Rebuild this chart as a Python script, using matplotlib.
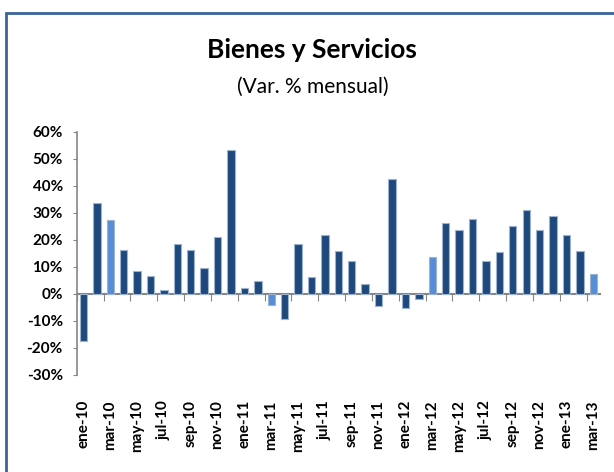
import matplotlib
matplotlib.use("Agg")
import matplotlib.pyplot as plt
from matplotlib.patches import Rectangle
import numpy as np

months = ["ene", "feb", "mar", "abr", "may", "jun", "jul", "ago", "sep", "oct", "nov", "dic"]
categories = [f"{m}-{y}" for y in ["10", "11", "12"] for m in months] + ["ene-13", "feb-13", "mar-13"]
values = [-17.4, 33.8, 27.3, 16.4, 8.6, 6.8, 1.6, 18.3, 16.4, 9.4, 20.9, 53.2,
          2.2, 4.6, -4.1, -9.3, 18.3, 6.3, 21.9, 16.0, 12.1, 3.8, -4.4, 42.6,
          -5.2, -2.0, 13.5, 26.3, 23.8, 27.8, 12.2, 15.4, 25.2, 31.0, 23.8, 29.0,
          21.9, 16.0, 7.2]
highlight = ["mar-10", "mar-11", "mar-12", "mar-13"]
yticks = [-30, -20, -10, 0, 10, 20, 30, 40, 50, 60]

dark = "#1F497D"
light = "#558ED5"
font = ["Lato", "DejaVu Sans"]
plt.rcParams["font.family"] = font

fig = plt.figure(figsize=(6.14, 4.72), dpi=100)
W, H = 614, 472
ax = fig.add_axes([76.7 / W, 97 / H, (600 - 76.7) / W, (375 - 131.7) / H])

x = np.arange(len(categories))
colors = [light if c in highlight else dark for c in categories]
ax.bar(x, values, width=0.55, color=colors, edgecolor="#9DB3CF", linewidth=0.8, zorder=3)

ax.set_xlim(-0.5, len(categories) - 0.5)
ax.set_ylim(-30, 60)
ax.set_yticks(yticks)
ax.set_yticklabels([f"{v}%" for v in yticks], fontsize=11, fontweight="bold")
ax.tick_params(axis="y", direction="out", length=3, color="#868686", pad=7)

ax.set_xticks(x[::2])
ax.set_xticklabels(categories[::2], rotation=90, fontsize=11, fontweight="bold")
ax.tick_params(axis="x", length=0, pad=18)

for s in ["top", "right", "bottom"]:
    ax.spines[s].set_visible(False)
ax.spines["left"].set_color("#868686")
ax.spines["left"].set_linewidth(1.2)

zero = ax.secondary_xaxis(30 / 90)
zero.set_xticks(np.arange(-0.5, len(categories), 2))
zero.set_xticklabels([])
zero.tick_params(direction="out", length=5, color="#868686")
zero.spines["bottom"].set_color("#868686")
zero.spines["bottom"].set_linewidth(1.5)
zero.spines["bottom"].set_zorder(4)

fig.text(312 / W, 1 - 50 / H, "Bienes y Servicios", ha="center", va="center",
         fontsize=19, fontweight="bold")
fig.text(313 / W, 1 - 87 / H, "(Var. % mensual)", ha="center", va="center", fontsize=15)

fig.patches.append(Rectangle((6 / W, -0.1), 1.2, 1 - 13 / H + 0.1, transform=fig.transFigure,
                             fill=False, edgecolor="#3A6496", linewidth=2, clip_on=False))

fig.savefig("out.png", dpi=100)
